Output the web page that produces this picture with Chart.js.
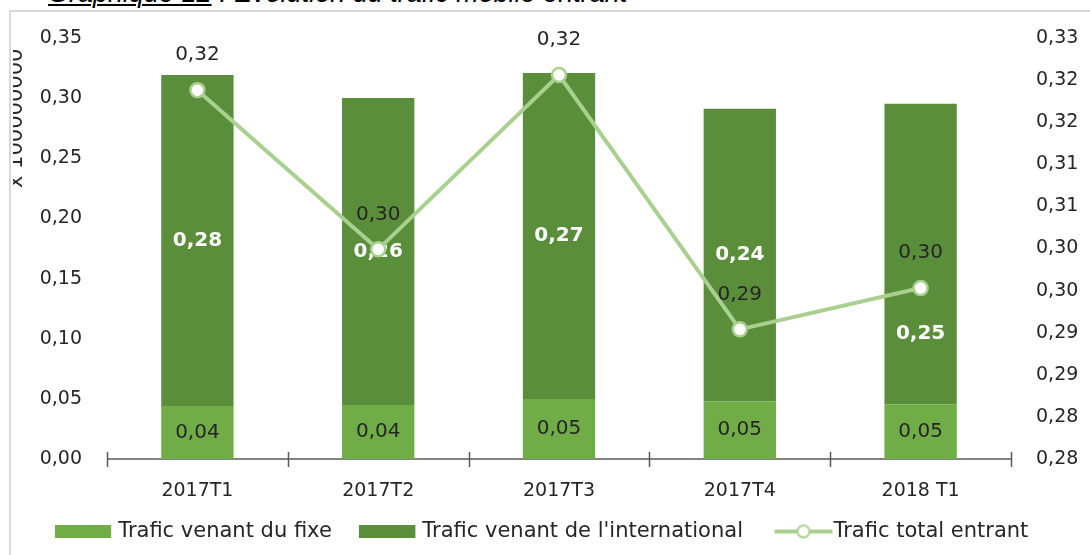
<!DOCTYPE html>
<html><head><meta charset="utf-8">
<script src="https://cdn.jsdelivr.net/npm/chart.js@4.4.1/dist/chart.umd.min.js"></script>
<style>
html,body{margin:0;padding:0;background:#fff;width:1090px;height:555px;overflow:hidden;position:relative;}
#frame{position:absolute;left:9px;top:10px;width:1200px;height:700px;border-left:2px solid #d9d9d9;border-top:2px solid #d9d9d9;box-sizing:border-box;}
#title{position:absolute;left:48px;top:-20px;font:italic 27px "Liberation Sans",Arial,sans-serif;color:#000;white-space:nowrap;line-height:27px;}
#title u{text-decoration-thickness:2px;text-underline-offset:2px;}
#wrap{position:absolute;left:11px;top:12px;width:1079px;height:543px;}
</style></head><body>
<div id="title"><u>Graphique 12</u> : Evolution du trafic mobile entrant</div>
<div id="frame"></div>
<div id="wrap"><canvas id="c"></canvas></div>
<script>
const categories = ['2017T1', '2017T2', '2017T3', '2017T4', '2018 T1'];
const fixeValues = [0.044, 0.0448, 0.0498, 0.048, 0.0456];
const internationalValues = [0.2753, 0.2554, 0.2712, 0.2431, 0.2497];
const totalValues = [0.3188, 0.2999, 0.3206, 0.2904, 0.2953];
const seriesNames = ['Trafic venant du fixe', "Trafic venant de l'international", 'Trafic total entrant'];
const leftTickValues = [0, 0.05, 0.10, 0.15, 0.20, 0.25, 0.30, 0.35];
const leftTickLabels = ['0,00', '0,05', '0,10', '0,15', '0,20', '0,25', '0,30', '0,35'];
const rightTickValues = [0.275, 0.28, 0.285, 0.29, 0.295, 0.30, 0.305, 0.31, 0.315, 0.32, 0.325];
const rightTickLabels = ['0,28', '0,28', '0,29', '0,29', '0,30', '0,30', '0,31', '0,31', '0,32', '0,32', '0,33'];
const leftAxisTitle = 'x 100000000';

const FONT = '"DejaVu Sans", Verdana, sans-serif';
const TXT = '#262626';
const C_FIXE = '#70AD47';
const C_INTL = '#5A8E3A';
const C_LINE = '#A9D08E';

const fmt = v => v.toFixed(2).replace('.', ',');

function swatch(w, h, draw) {
  const c = document.createElement('canvas');
  c.width = w; c.height = h;
  draw(c.getContext('2d'), w, h);
  return c;
}
// legend icons (70px wide image centred on a 35px legend box)
const legendIcons = [
  swatch(70, 13, (g, w, h) => { g.fillStyle = C_FIXE; g.fillRect(0, 0, 56, h); }),
  swatch(70, 13, (g, w, h) => { g.fillStyle = C_INTL; g.fillRect(0, 0, 56, h); }),
  swatch(70, 16, (g, w, h) => {
    g.strokeStyle = C_LINE; g.lineWidth = 4;
    g.beginPath(); g.moveTo(4, h / 2); g.lineTo(62, h / 2); g.stroke();
    g.fillStyle = '#fff'; g.lineWidth = 2;
    g.beginPath(); g.arc(33, h / 2, 6, 0, Math.PI * 2); g.fill(); g.stroke();
  })
];

const labelPlugin = {
  id: 'valueLabels',
  beforeDatasetsDraw(chart) {
    const {ctx, chartArea, scales: {x}} = chart;
    const n = categories.length;
    const y = chartArea.bottom;
    ctx.save();
    ctx.strokeStyle = '#595959';
    ctx.lineWidth = 1.5;
    ctx.beginPath();
    ctx.moveTo(chartArea.left, y); ctx.lineTo(chartArea.right, y);
    for (let i = 0; i <= n; i++) {
      let px;
      if (i === 0) px = chartArea.left;
      else if (i === n) px = chartArea.right;
      else px = (x.getPixelForValue(i - 1) + x.getPixelForValue(i)) / 2;
      px = Math.round(px) + 0.5;
      ctx.moveTo(px, y - 7); ctx.lineTo(px, y + 8);
    }
    ctx.stroke();
    ctx.restore();
  },
  afterDatasetDraw(chart, args, opts) {
    const ds = chart.data.datasets[args.index];
    if (ds.type === 'line') return;
    const {ctx} = chart;
    ctx.save();
    ctx.textAlign = 'center';
    ctx.textBaseline = 'middle';
    args.meta.data.forEach((el, i) => {
      const v = ds.data[i];
      let cy = (el.y + el.base) / 2;
      if (args.index === 1) {
        ctx.fillStyle = '#ffffff';
        ctx.font = 'bold 20px ' + FONT;
        cy += opts.intlShift[i];
      } else {
        ctx.fillStyle = TXT;
        ctx.font = '20px ' + FONT;
      }
      ctx.fillText(fmt(v), el.x, cy);
    });
    ctx.restore();
  },
  afterDatasetsDraw(chart) {
    const {ctx} = chart;
    const meta = chart.getDatasetMeta(2);
    const ds = chart.data.datasets[2];
    ctx.save();
    ctx.textAlign = 'center';
    ctx.textBaseline = 'middle';
    ctx.fillStyle = TXT;
    ctx.font = '20px ' + FONT;
    meta.data.forEach((el, i) => ctx.fillText(fmt(ds.data[i]), el.x, el.y - 35));
    ctx.restore();
  },
  afterDraw(chart) {
    const {ctx} = chart;
    ctx.save();
    ctx.beginPath();
    ctx.rect(2, 0, 40, 300);
    ctx.clip();
    ctx.translate(11, 176);
    ctx.rotate(-Math.PI / 2);
    ctx.textAlign = 'left';
    ctx.textBaseline = 'alphabetic';
    ctx.fillStyle = TXT;
    ctx.font = '21px ' + FONT;
    ctx.fillText(leftAxisTitle, 0, 0);
    ctx.restore();
  }
};

new Chart(document.getElementById('c'), {
  type: 'bar',
  data: {
    labels: categories,
    datasets: [
      { label: seriesNames[0], data: fixeValues, backgroundColor: C_FIXE, yAxisID: 'y', stack: 's', order: 1 },
      { label: seriesNames[1], data: internationalValues, backgroundColor: C_INTL, yAxisID: 'y', stack: 's', order: 1 },
      { type: 'line', label: seriesNames[2], data: totalValues, yAxisID: 'y1', order: 0,
        borderColor: C_LINE, borderWidth: 4, backgroundColor: '#fff',
        pointRadius: 7, pointBorderWidth: 2.5, pointBackgroundColor: '#ffffff', pointBorderColor: C_LINE,
        pointHoverRadius: 7, tension: 0 }
    ]
  },
  options: {
    responsive: true,
    maintainAspectRatio: false,
    animation: false,
    events: [],
    layout: { padding: { top: 26, bottom: 3, left: 0, right: 0 } },
    datasets: { bar: { categoryPercentage: 1, barPercentage: 0.4 } },
    scales: {
      x: {
        stacked: true,
        offset: true,
        grid: { display: false, drawTicks: false },
        border: { display: false },
        ticks: { color: TXT, font: { family: FONT, size: 19 }, mirror: true, padding: -43, maxRotation: 0 },
        afterFit: s => { s.height = 17; }
      },
      y: {
        position: 'left',
        stacked: true,
        min: 0, max: 0.35,
        grid: { display: false, drawTicks: false },
        border: { display: false },
        afterBuildTicks: s => { s.ticks = leftTickValues.map(v => ({ value: v })); },
        ticks: { color: TXT, font: { family: FONT, size: 19 }, padding: 25, callback: (v, i) => leftTickLabels[i] },
        afterFit: s => { s.width = 96; s.paddingTop = 10; s.paddingBottom = 10; }
      },
      y1: {
        position: 'right',
        min: 0.275, max: 0.325,
        grid: { display: false, drawTicks: false },
        border: { display: false },
        afterBuildTicks: s => { s.ticks = rightTickValues.map(v => ({ value: v })); },
        ticks: { color: TXT, font: { family: FONT, size: 19 }, padding: 25, callback: (v, i) => rightTickLabels[i] },
        afterFit: s => { s.width = 79; s.paddingTop = 10; s.paddingBottom = 10; }
      }
    },
    plugins: {
      tooltip: { enabled: false },
      title: { display: false },
      valueLabels: { intlShift: [0, 0, 0, 0, 80] },
      legend: {
        position: 'bottom',
        labels: {
          usePointStyle: true,
          pointStyleWidth: 35,
          padding: 45,
          color: TXT,
          font: { family: FONT, size: 21 },
          sort: (a, b) => a.datasetIndex - b.datasetIndex,
          generateLabels(chart) {
            const items = Chart.defaults.plugins.legend.labels.generateLabels(chart);
            items.forEach(it => { it.pointStyle = legendIcons[it.datasetIndex]; it.fontColor = TXT; });
            return items;
          }
        }
      }
    }
  },
  plugins: [labelPlugin]
});
</script>
</body></html>
